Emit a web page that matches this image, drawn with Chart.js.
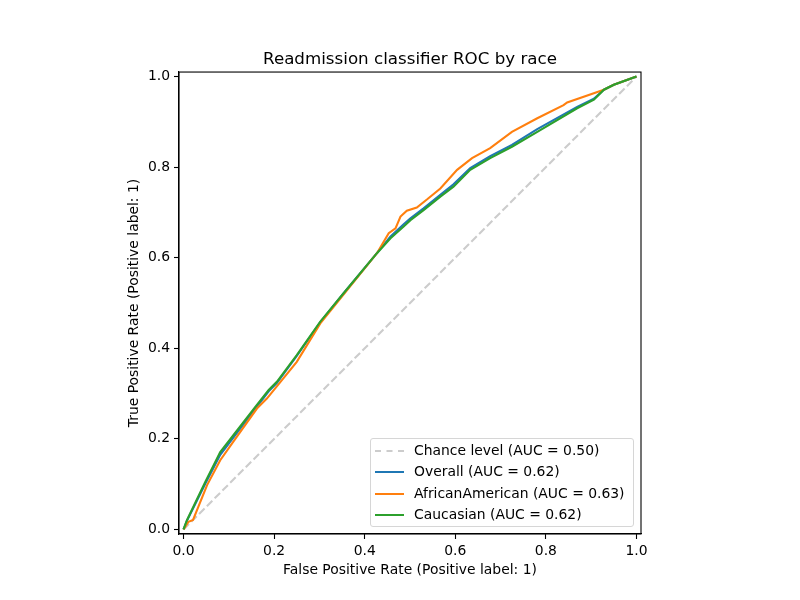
<!DOCTYPE html>
<html>
<head>
<meta charset="utf-8">
<script src="https://cdn.jsdelivr.net/npm/chart.js@4"></script>
<style>
  html, body { margin: 0; padding: 0; background: #fff; }
  #wrap { position: relative; width: 800px; height: 600px; }
  #legend {
    position: absolute; left: 370px; top: 438px; width: 264px; height: 89px;
    box-sizing: border-box; border: 1px solid #d6d6d6; border-radius: 3px;
    background: rgba(255,255,255,0.8);
    font-family: "DejaVu Sans", sans-serif; font-size: 13.9px; color: #000;
    padding-top: 1px;
  }
  .leyenda-item { position: relative; height: 21.3px; line-height: 21.3px; }
  .leyenda-linea { position: absolute; left: 4px; top: 10px; width: 29px; height: 0; }
  .leyenda-texto { position: absolute; left: 43px; top: 0; white-space: nowrap; }
</style>
</head>
<body>
<div id="wrap">
  <canvas id="rocChart" width="800" height="600"></canvas>
  <div id="legend"></div>
</div>
<script>
// datos
const fprChance = [0, 1];
const tprChance = [0, 1];

const fprOverall = [0, 0.0075, 0.048, 0.081, 0.11, 0.162, 0.188, 0.206, 0.25, 0.302, 0.353, 0.427, 0.457, 0.486, 0.501, 0.53, 0.567, 0.596, 0.633, 0.677, 0.725, 0.781, 0.869, 0.906, 0.928, 0.95, 1];
const tprOverall = [0, 0.019, 0.101, 0.165, 0.203, 0.271, 0.305, 0.323, 0.383, 0.458, 0.521, 0.61, 0.647, 0.674, 0.687, 0.709, 0.739, 0.762, 0.798, 0.824, 0.849, 0.884, 0.933, 0.951, 0.971, 0.982, 1];

const fprAfrican = [0, 0.011, 0.021, 0.052, 0.081, 0.11, 0.162, 0.184, 0.25, 0.302, 0.427, 0.453, 0.468, 0.479, 0.493, 0.515, 0.538, 0.567, 0.604, 0.637, 0.677, 0.725, 0.781, 0.839, 0.847, 0.928, 0.95, 1];
const tprAfrican = [0, 0.017, 0.021, 0.098, 0.153, 0.194, 0.267, 0.289, 0.37, 0.455, 0.61, 0.654, 0.665, 0.691, 0.704, 0.711, 0.729, 0.753, 0.794, 0.82, 0.842, 0.878, 0.908, 0.937, 0.943, 0.971, 0.982, 1];

const fprCaucasian = [0, 0.0075, 0.048, 0.081, 0.11, 0.162, 0.188, 0.206, 0.25, 0.302, 0.353, 0.427, 0.457, 0.486, 0.501, 0.53, 0.567, 0.596, 0.633, 0.677, 0.725, 0.781, 0.869, 0.906, 0.928, 0.95, 1];
const tprCaucasian = [0, 0.0205, 0.105, 0.171, 0.208, 0.275, 0.308, 0.326, 0.385, 0.459, 0.521, 0.61, 0.643, 0.669, 0.683, 0.705, 0.735, 0.757, 0.794, 0.82, 0.845, 0.878, 0.93, 0.949, 0.971, 0.982, 1];

const tickValues = [0, 0.2, 0.4, 0.6, 0.8, 1.0];
const seriesLabels = [
  'Chance level (AUC = 0.50)',
  'Overall (AUC = 0.62)',
  'AfricanAmerican (AUC = 0.63)',
  'Caucasian (AUC = 0.62)'
];

const FONT = '"DejaVu Sans", sans-serif';

function puntos(xs, ys) {
  return xs.map((x, i) => ({ x, y: ys[i] }));
}

const marcoPlugin = {
  id: 'marco',
  afterDraw(chart) {
    const { ctx, chartArea: a } = chart;
    ctx.save();
    ctx.strokeStyle = '#000';
    ctx.lineWidth = 1.1;
    ctx.strokeRect(a.left, a.top, a.right - a.left, a.bottom - a.top);
    ctx.restore();
  }
};

const ejeComun = {
  type: 'linear',
  min: -0.01,
  max: 1.01,
  grid: {
    display: true,
    drawOnChartArea: false,
    drawTicks: true,
    tickLength: 5,
    tickColor: '#000',
    tickWidth: 1.1
  },
  border: { display: true, color: '#000', width: 1.1 },
  afterBuildTicks(scale) {
    scale.ticks = tickValues.map(v => ({ value: v }));
  },
  ticks: {
    color: '#000',
    padding: 4,
    font: { family: FONT, size: 13.9 },
    callback: v => Number(v).toFixed(1)
  }
};

const canvas = document.getElementById('rocChart');
const chart = new Chart(canvas, {
  type: 'scatter',
  data: {
    datasets: [
      {
        label: seriesLabels[0],
        data: puntos(fprChance, tprChance),
        borderColor: '#cccccc',
        borderDash: [7.7, 3.3],
        order: 4
      },
      {
        label: seriesLabels[1],
        data: puntos(fprOverall, tprOverall),
        borderColor: '#1f77b4',
        order: 3
      },
      {
        label: seriesLabels[2],
        data: puntos(fprAfrican, tprAfrican),
        borderColor: '#ff7f0e',
        order: 2
      },
      {
        label: seriesLabels[3],
        data: puntos(fprCaucasian, tprCaucasian),
        borderColor: '#2ca02c',
        order: 1
      }
    ]
  },
  options: {
    responsive: false,
    animation: false,
    devicePixelRatio: 1,
    datasets: {
      scatter: {
        showLine: true,
        pointRadius: 0,
        borderWidth: 2.1,
        fill: false,
        tension: 0
      }
    },
    layout: {
      padding: { top: 50, right: 159, bottom: 16, left: 100 }
    },
    scales: {
      x: {
        ...ejeComun,
        position: 'bottom',
        afterFit(scale) { scale.height = 50; },
        title: {
          display: true,
          text: 'False Positive Rate (Positive label: 1)',
          color: '#000',
          font: { family: FONT, size: 13.9 },
          padding: { top: 0, bottom: 5 }
        }
      },
      y: {
        ...ejeComun,
        position: 'left',
        afterFit(scale) { scale.width = 79; },
        title: {
          display: true,
          text: 'True Positive Rate (Positive label: 1)',
          color: '#000',
          font: { family: FONT, size: 13.9 },
          padding: { top: 26, bottom: 0 }
        }
      }
    },
    plugins: {
      legend: { display: false },
      tooltip: { enabled: false },
      title: {
        display: true,
        fullSize: false,
        text: 'Readmission classifier ROC by race',
        color: '#000',
        font: { family: FONT, size: 16.7, weight: 'normal' },
        padding: { top: 0, bottom: 2 }
      }
    }
  },
  plugins: [marcoPlugin]
});

// leyenda dentro del area del grafico
const legend = document.getElementById('legend');
legend.innerHTML = chart.data.datasets.map(ds => {
  const estilo = ds.borderDash
    ? `border-top: 2px dashed ${ds.borderColor};`
    : `border-top: 2px solid ${ds.borderColor};`;
  return `
    <div class="leyenda-item">
      <span class="leyenda-linea" style="${estilo}"></span>
      <span class="leyenda-texto">${ds.label}</span>
    </div>`;
}).join('');
</script>
</body>
</html>
